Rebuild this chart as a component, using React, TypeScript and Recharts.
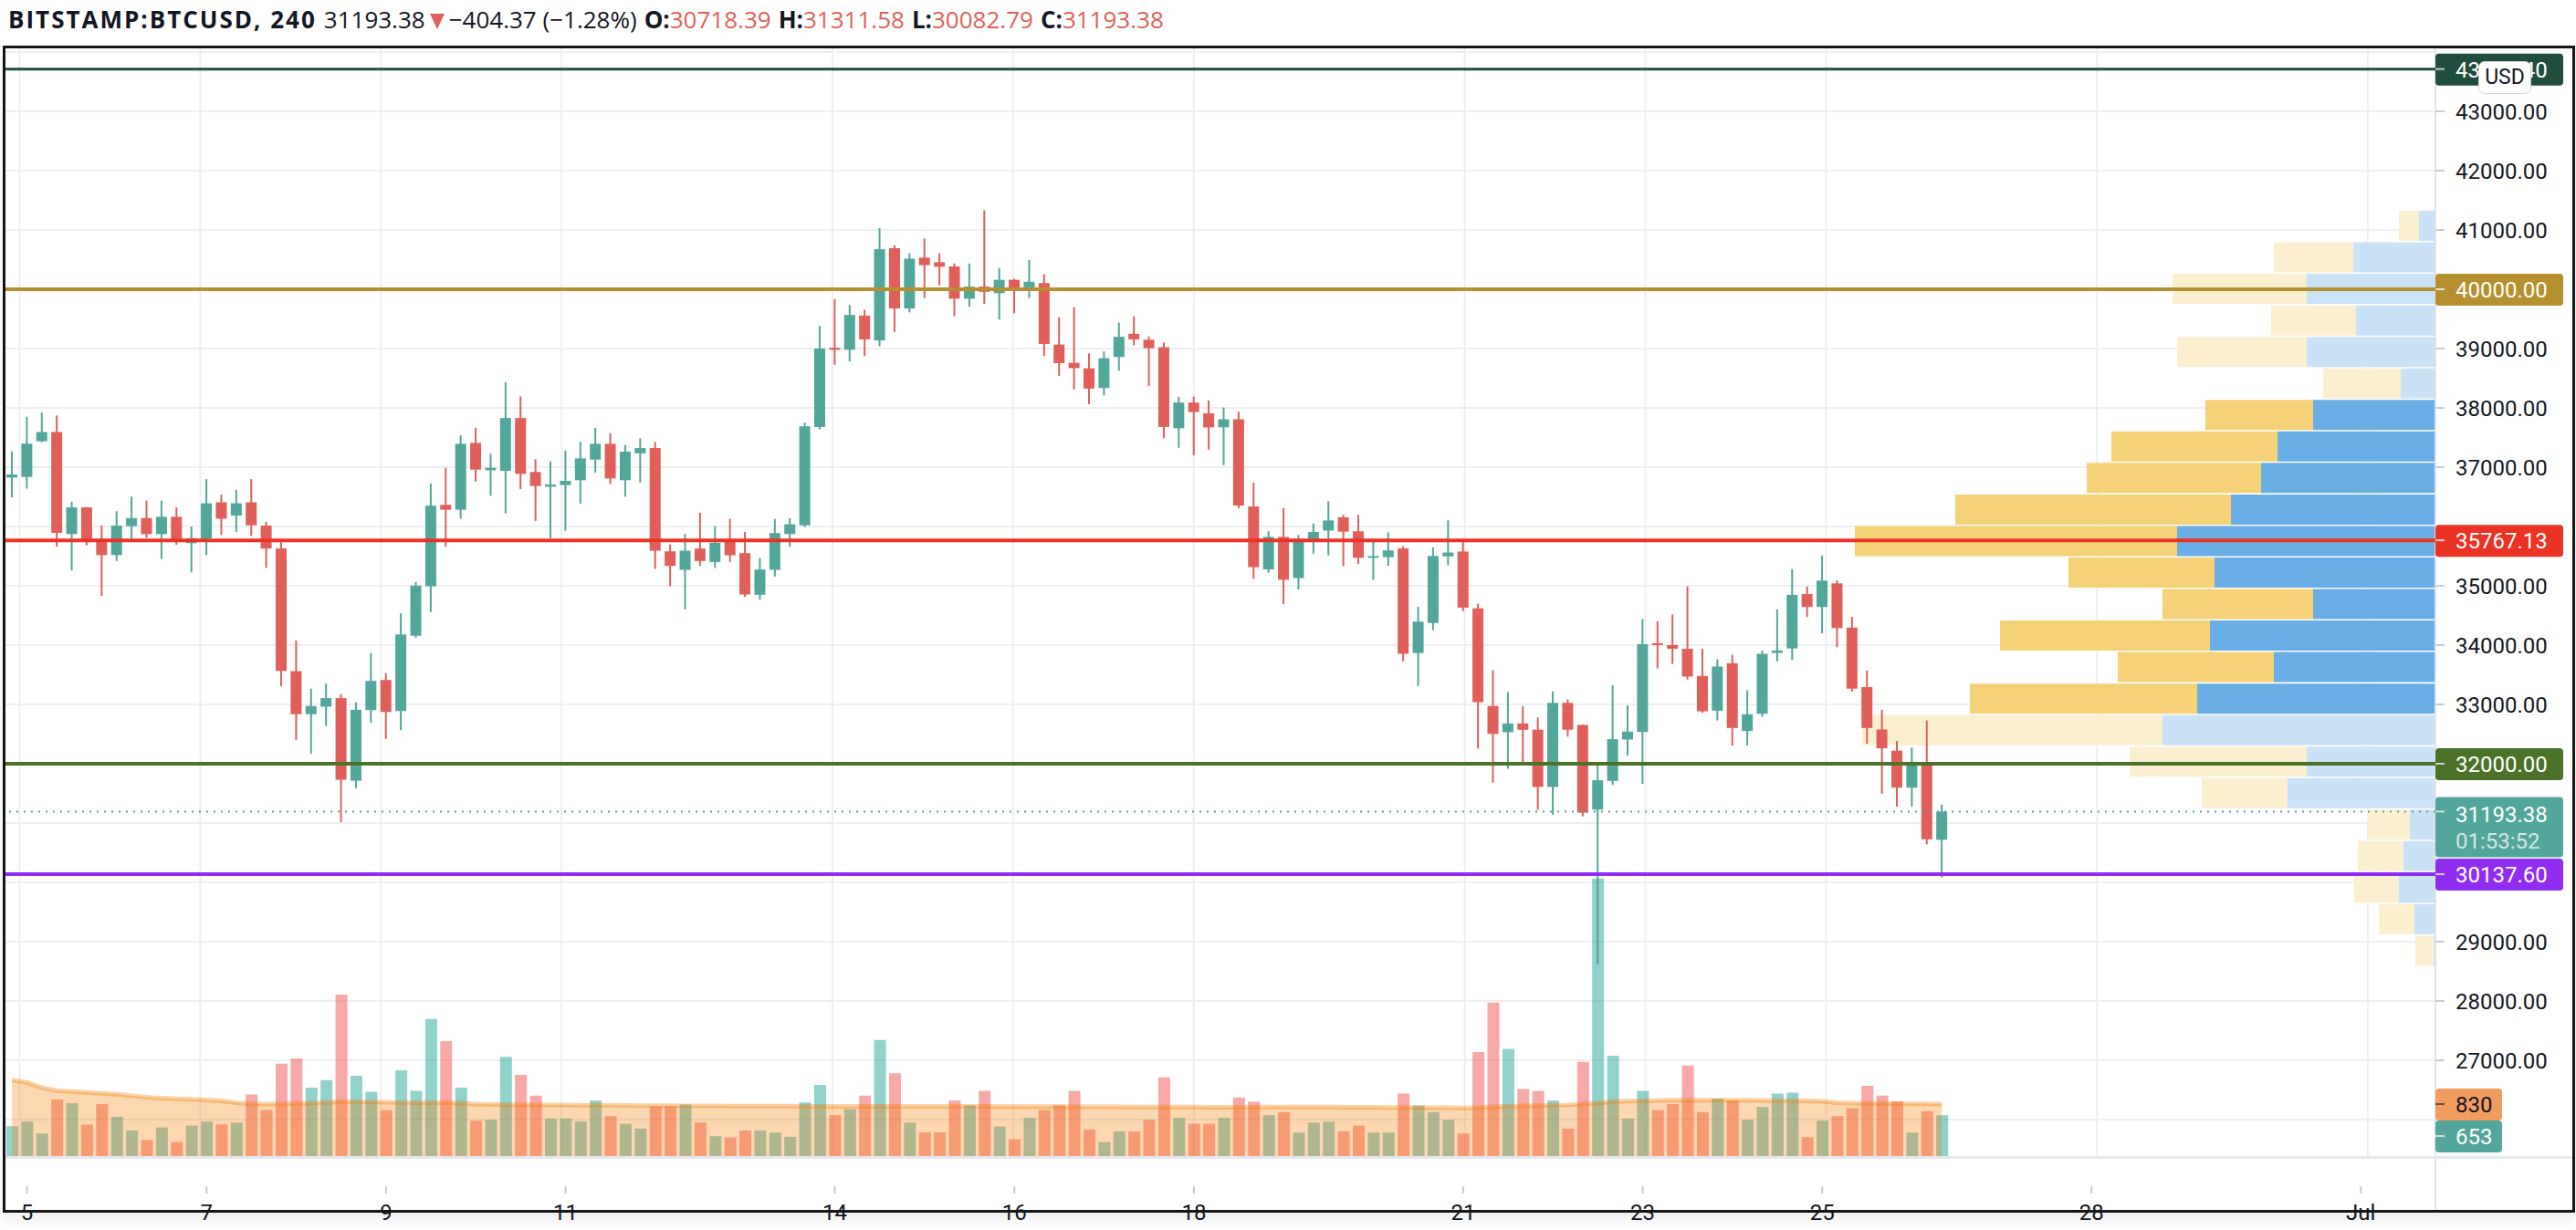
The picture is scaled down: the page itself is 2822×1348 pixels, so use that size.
import React from "react";
import { ComposedChart, Bar, Area, Line, XAxis, YAxis, ReferenceLine, Cell } from "recharts";

// 4h candles, BITSTAMP:BTCUSD, from Jun 4 20:00
const OPEN = [
  36824, 36835, 37438, 37592, 35872, 36322, 35761, 35518, 36005, 36142,
  35872, 36163, 35719, 35793, 36407, 36184, 36407, 36015, 35629, 33561,
  32836, 32963, 33106, 31714, 32905, 33412, 32889, 34158, 34993, 36365,
  36283, 37409, 36948, 36938, 37829, 36918, 36672, 36698, 36780, 37128,
  37394, 36780, 37235, 37322, 35581, 35269, 35628, 35402, 35771, 35551,
  34849, 35269, 35873, 36020, 37678, 39012, 38979, 39555, 39138, 40692,
  39676, 40533, 40456, 40384, 39841, 40044, 39934, 40159, 40027, 40104,
  39067, 38759, 38666, 38336, 38858, 39248, 39149, 39023, 37656, 38089,
  37907, 37672, 37807, 36337, 35278, 35825, 35131, 35772, 35931, 36155,
  35919, 35472, 35484, 35631, 33867, 34373, 35496, 35578, 34620, 32973,
  32532, 32679, 32574, 31609, 33026, 32654, 31226, 31711, 32409, 32537,
  34031, 34000, 33939, 33480, 32894, 33694, 32552, 32843, 33868, 33944,
  34862, 34643, 35041, 34296, 33292, 32578, 32221, 31598, 31991, 30718.39,
];
const HIGH = [
  37264, 37851, 37920, 37872, 36417, 36330, 36015, 36258, 36502, 36438,
  36438, 36322, 35999, 36798, 36539, 36618, 36798, 36079, 35735, 34079,
  33264, 33349, 33174, 33037, 33867, 33529, 34534, 35064, 36723, 36989,
  37537, 37665, 37230, 38433, 38193, 37133, 37097, 37281, 37425, 37665,
  37573, 37373, 37486, 37425, 35699, 35873, 36232, 36006, 36129, 35909,
  35469, 36129, 36140, 37749, 39380, 39835, 39736, 39654, 41032, 40741,
  40604, 40856, 40604, 40434, 40434, 41329, 40357, 40176, 40494, 40253,
  39528, 39698, 38918, 38951, 39440, 39544, 39204, 39100, 38188, 38189,
  38124, 38007, 37936, 36737, 35919, 36307, 35855, 36049, 36425, 36196,
  36196, 35784, 35902, 35666, 34649, 35649, 36102, 35737, 34696, 33579,
  33209, 32973, 32779, 33220, 33085, 32660, 31991, 33322, 32986, 34439,
  34403, 34516, 34990, 33939, 33761, 33837, 33240, 33909, 34602, 35281,
  34990, 35510, 35092, 34475, 33572, 32909, 32384, 32272, 32731, 31311.58,
];
const LOW = [
  36491, 36639, 37422, 35661, 35259, 35682, 34830, 35417, 35751, 35809,
  35454, 35692, 35227, 35518, 35856, 35909, 35840, 35301, 33307, 32402,
  32169, 32635, 31016, 31587, 32693, 32418, 32566, 34122, 34557, 35658,
  36129, 36759, 36518, 36221, 36631, 36093, 35802, 35930, 36385, 36908,
  36718, 36503, 36744, 35285, 34993, 34603, 35336, 35300, 35402, 34813,
  34762, 35156, 35658, 35992, 37639, 38726, 38781, 38875, 39039, 39281,
  39610, 39852, 40066, 39544, 39704, 39753, 39489, 39594, 39852, 38875,
  38540, 38309, 38062, 38210, 38628, 39056, 38370, 37491, 37326, 37201,
  37295, 37036, 36307, 35120, 35220, 34690, 34937, 35543, 35513, 35331,
  35367, 35102, 35337, 33726, 33314, 34255, 35349, 34573, 32256, 31680,
  31915, 32033, 31221, 31139, 32456, 31114, 28615, 31644, 32134, 31660,
  33608, 33684, 33419, 32858, 32731, 32307, 32307, 32792, 33725, 33751,
  34475, 34199, 33965, 33215, 32338, 31496, 31277, 31277, 30640, 30082.79,
];
const CLOSE = [
  36877, 37396, 37592, 35893, 36322, 35751, 35518, 36015, 36142, 35872,
  36163, 35751, 35804, 36391, 36131, 36391, 36020, 35629, 33566, 32836,
  32973, 33106, 31730, 32910, 33397, 32873, 34179, 35003, 36349, 36283,
  37394, 36959, 36989, 37829, 36887, 36682, 36708, 36769, 37148, 37394,
  36810, 37261, 37322, 35592, 35336, 35592, 35418, 35725, 35515, 34854,
  35274, 35889, 36037, 37689, 39001, 38979, 39566, 39155, 40675, 39676,
  40516, 40406, 40379, 39841, 40044, 39956, 40159, 40027, 40126, 39078,
  38754, 38671, 38325, 38836, 39198, 39155, 39006, 37678, 38090, 37930,
  37672, 37807, 36354, 35314, 35825, 35102, 35784, 35907, 36102, 35913,
  35472, 35502, 35596, 33855, 34396, 35502, 35561, 34632, 33038, 32503,
  32679, 32574, 31609, 33026, 32574, 31175, 31721, 32414, 32542, 34016,
  34000, 33939, 33470, 32884, 33638, 32603, 32833, 33853, 33909, 34847,
  34643, 35087, 34286, 33266, 32603, 32261, 31598, 31991, 30726, 31193.38,
];
const VOLUME = [
  477, 550, 360, 901, 843, 502, 828, 628, 409, 258,
  458, 224, 487, 550, 506, 536, 984, 735, 1476, 1558,
  1091, 1213, 2576, 1281, 1028, 735, 1368, 1042, 2187, 1836,
  1091, 565, 580, 1583, 1295, 964, 599, 599, 550, 886,
  638, 516, 438, 794, 794, 823, 536, 317, 297, 409,
  409, 375, 307, 857, 1135, 653, 750, 964, 1851, 1320,
  536, 380, 380, 886, 808, 1042, 472, 268, 609, 735,
  808, 1042, 424, 224, 394, 394, 580, 1256, 609, 516,
  516, 609, 935, 867, 653, 701, 375, 536, 550, 394,
  487, 375, 375, 998, 808, 701, 580, 360, 1661, 2450,
  1709, 1071, 1042, 886, 438, 1505, 4430, 1602, 599, 1042,
  735, 828, 1446, 701, 916, 886, 580, 784, 998, 1013,
  302, 565, 638, 765, 1120, 964, 872, 375, 716, 653,
];
const VOLUME_MA = [
  1210, 1175, 1090, 1045, 1030, 1015, 1000, 985, 960, 940,
  925, 912, 905, 895, 880, 850, 835, 830, 835, 840,
  845, 855, 865, 865, 862, 860, 855, 852, 852, 850,
  845, 830, 825, 820, 818, 818, 815, 815, 813, 813,
  810, 808, 805, 804, 803, 802, 800, 800, 798, 798,
  797, 797, 796, 795, 795, 794, 793, 793, 792, 792,
  792, 793, 794, 794, 793, 792, 791, 790, 790, 789,
  789, 788, 787, 786, 785, 784, 783, 782, 781, 781,
  780, 780, 780, 780, 781, 782, 783, 782, 781, 780,
  779, 778, 776, 775, 773, 771, 770, 769, 770, 785,
  795, 800, 805, 810, 815, 835, 845, 870, 878, 882,
  888, 890, 892, 893, 892, 891, 890, 888, 886, 884,
  880, 872, 852, 845, 842, 840, 838, 835, 832, 830,
];

// time axis: bar index -> label
const DAY_INDEX = [1, 13, 25, 37, 55, 67, 79, 97, 109, 121, 139, 157];
const DAY_TEXT = ["5", "7", "9", "11", "14", "16", "18", "21", "23", "25", "28", "Jul"];
const SLOTS = 162;

const PRICE_TICKS = [27000, 28000, 29000, 33000, 34000, 35000, 37000, 38000, 39000, 41000, 42000, 43000];
const GRID_PRICES = [26000, 27000, 28000, 29000, 30000, 31000, 32000, 33000, 34000, 35000, 36000, 37000, 38000, 39000, 40000, 41000, 42000, 43000, 44000];

// horizontal levels drawn on the chart
const LEVEL_PRICES = [43712.4, 40000, 35767.13, 32000, 30137.6];
const LEVEL_COLORS = ["#204e3e", "#b68f2f", "#ea3324", "#4a7229", "#8f2df0"];
const LEVEL_WIDTHS = [3, 4, 4, 4, 4];
const COUNTDOWN = "01:53:52";
const PREV_CLOSE = 31597.75;

// visible range volume profile, rows top -> bottom
const PROFILE_UP = [18, 90, 141, 87, 141, 38, 134, 173, 191, 224, 283, 242, 134, 247, 177, 261, 299, 141, 162, 28, 35, 40, 23, 2];
const PROFILE_DOWN = [22, 87, 147, 93, 142, 85, 118, 182, 191, 302, 353, 160, 165, 230, 171, 249, 329, 194, 94, 46, 50, 49, 39, 20];
const PROFILE_VALUE_AREA = [0, 0, 0, 0, 0, 0, 1, 1, 1, 1, 1, 1, 1, 1, 1, 1, 0, 0, 0, 0, 0, 0, 0, 0];

const W = 2822;
const H = 1348;
const FONT = "Roboto, 'Noto Sans', sans-serif";
const HEAD_FONT = "'Open Sans', Roboto, sans-serif";
const UP = "#52a69a";
const DOWN = "#e05f59";
const TEXT = "#131722";
const GRID = "#eeeff2";
const PRICE_DOMAIN = [25385, 44092];
const VOL_DOMAIN = [0, 17705];

const rows = Array.from({ length: SLOTS }, (_, i) =>
  i < OPEN.length
    ? { i, o: OPEN[i], h: HIGH[i], l: LOW[i], c: CLOSE[i], hl: [LOW[i], HIGH[i]], vol: VOLUME[i], ma: VOLUME_MA[i] }
    : { i }
);

const profileRows = PROFILE_UP.map((u, r) => ({ row: r, up: u, down: PROFILE_DOWN[r] }));

const dayLabel: Record<number, string> = {};
DAY_INDEX.forEach((d, k) => (dayLabel[d] = DAY_TEXT[k]));

function Candle(props: any) {
  const { x, width, payload } = props;
  let { y, height } = props;
  if (!payload || payload.o == null || y == null || isNaN(y)) return <g />;
  if (height < 0) {
    y += height;
    height = -height;
  }
  const { o, h, l, c } = payload;
  const color = c >= o ? UP : DOWN;
  const span = h - l || 1;
  const yOf = (p: number) => y + ((h - p) / span) * height;
  const top = yOf(Math.max(o, c));
  const bot = yOf(Math.min(o, c));
  const cx = x + width / 2;
  return (
    <g>
      <line x1={cx} x2={cx} y1={y} y2={y + height} stroke={color} strokeWidth={2} />
      <rect x={x} y={top} width={width} height={Math.max(bot - top, 2)} fill={color} />
    </g>
  );
}

function TimeTick(props: any) {
  const { x, y, payload } = props;
  const label = dayLabel[payload.value];
  if (label === undefined) return <g />;
  return (
    <g>
      <line x1={x} x2={x} y1={y + 3} y2={y + 11} stroke="#c8cbd1" strokeWidth={2} />
      <text x={x} y={y + 40} textAnchor="middle" fontSize={24} fill={TEXT} fontFamily={FONT}>
        {label}
      </text>
    </g>
  );
}

const tagLabel = (bg: string, fg: string, text: string, sub?: string) => (props: any) => {
  const vb = props.viewBox || {};
  const x = vb.x + vb.width;
  const y = vb.y;
  const top = sub ? y - 16 : y - 17;
  const hgt = sub ? 66 : 35;
  return (
    <g>
      <rect x={x} y={top} width={140} height={hgt} rx={4} fill={bg} />
      <line x1={x} x2={x + 10} y1={y} y2={y} stroke={fg} strokeOpacity={0.7} strokeWidth={2} />
      <text x={x + 22} y={sub ? y + 4 : y + 1} dominantBaseline="central" fontSize={24} fill={fg} fontFamily={FONT}>
        {text}
      </text>
      {sub && (
        <text x={x + 22} y={y + 33} dominantBaseline="central" fontSize={24} fill={fg} fillOpacity={0.75} fontFamily={FONT}>
          {sub}
        </text>
      )}
    </g>
  );
};

const volumeTags = (props: any) => {
  const vb = props.viewBox || {};
  const x = vb.x + vb.width;
  const y = vb.y;
  const last = VOLUME.length - 1;
  return (
    <g fontFamily={FONT} fontSize={24}>
      <rect x={x} y={y - 17} width={73} height={35} rx={4} fill="#f29c5f" />
      <line x1={x} x2={x + 10} y1={y} y2={y} stroke={TEXT} strokeOpacity={0.6} strokeWidth={2} />
      <text x={x + 22} y={y + 1} dominantBaseline="central" fill={TEXT}>{VOLUME_MA[last]}</text>
      <rect x={x} y={y + 18} width={73} height={35} rx={4} fill="#53a69b" />
      <line x1={x} x2={x + 10} y1={y + 35} y2={y + 35} stroke="#fff" strokeOpacity={0.7} strokeWidth={2} />
      <text x={x + 22} y={y + 36} dominantBaseline="central" fill="#fff">{VOLUME[last]}</text>
    </g>
  );
};

function GridLayer() {
  return (
    <ComposedChart width={W} height={H} data={rows} margin={{ top: 51, left: 5, right: 154, bottom: 81 }}>
      <XAxis xAxisId="main" dataKey="i" type="category" hide padding={{ left: 0, right: 8 }} />
      <XAxis xAxisId="lx" dataKey="i" type="category" hide />
      <YAxis yAxisId="price" type="number" domain={PRICE_DOMAIN} allowDataOverflow hide />
      <Line xAxisId="lx" yAxisId="price" dataKey="c" stroke="none" dot={false} isAnimationActive={false} />
      {DAY_INDEX.map((d) => (
        <ReferenceLine key={"v" + d} xAxisId="main" yAxisId="price" x={d} stroke={GRID} strokeWidth={2} />
      ))}
      {GRID_PRICES.map((p) => (
        <ReferenceLine key={"h" + p} xAxisId="lx" yAxisId="price" y={p} stroke={GRID} strokeWidth={2} />
      ))}
    </ComposedChart>
  );
}

function ProfileLayer() {
  return (
    <ComposedChart
      layout="vertical"
      width={W}
      height={H}
      data={profileRows}
      margin={{ top: 230, right: 154, bottom: 289, left: 5 }}
      barCategoryGap={1}
    >
      <XAxis type="number" domain={[0, 2663]} reversed allowDataOverflow hide />
      <YAxis type="category" dataKey="row" hide />
      <Bar dataKey="up" stackId="vp" isAnimationActive={false}>
        {profileRows.map((r) => (
          <Cell key={r.row} fill={PROFILE_VALUE_AREA[r.row] ? "#6badE5" : "#cae2f5"} />
        ))}
      </Bar>
      <Bar dataKey="down" stackId="vp" isAnimationActive={false}>
        {profileRows.map((r) => (
          <Cell key={r.row} fill={PROFILE_VALUE_AREA[r.row] ? "#f5d277" : "#fcefd0"} />
        ))}
      </Bar>
    </ComposedChart>
  );
}

function MainLayer() {
  const last = CLOSE.length - 1;
  return (
    <ComposedChart width={W} height={H} data={rows} margin={{ top: 51, left: 5, right: 0, bottom: 0 }}>
      <XAxis
        xAxisId="main"
        dataKey="i"
        type="category"
        interval={0}
        height={81}
        padding={{ left: 0, right: 8 }}
        tickLine={false}
        tickSize={0}
        tickMargin={0}
        axisLine={false}
        tick={<TimeTick />}
      />
      <XAxis xAxisId="vx" dataKey="i" type="category" hide padding={{ left: 0, right: 8 }} />
      <XAxis xAxisId="lx" dataKey="i" type="category" hide />
      <YAxis
        yAxisId="price"
        orientation="right"
        type="number"
        width={154}
        domain={PRICE_DOMAIN}
        allowDataOverflow
        ticks={PRICE_TICKS}
        tickFormatter={(v: number) => v.toFixed(2)}
        tick={{ fontSize: 24, fill: TEXT, fontFamily: FONT }}
        tickSize={10}
        tickMargin={12}
        tickLine={{ stroke: "#c8cbd1", strokeWidth: 2 }}
        axisLine={false}
      />
      <YAxis yAxisId="vol" type="number" domain={VOL_DOMAIN} allowDataOverflow hide />

      <Bar xAxisId="vx" yAxisId="vol" dataKey="vol" barSize={13} isAnimationActive={false}>
        {rows.map((r: any) => (
          <Cell key={r.i} fill={r.c >= r.o ? "rgba(38,166,154,0.5)" : "rgba(239,83,80,0.5)"} />
        ))}
      </Bar>
      <Area
        xAxisId="vx"
        yAxisId="vol"
        dataKey="ma"
        type="linear"
        fill="rgba(245,124,0,0.3)"
        fillOpacity={1}
        stroke="rgba(245,124,0,0.35)"
        strokeWidth={5}
        dot={false}
        activeDot={false}
        isAnimationActive={false}
        zIndex={350}
      />
      <Bar xAxisId="main" yAxisId="price" dataKey="hl" barSize={12} shape={<Candle />} isAnimationActive={false} zIndex={360} />

      <ReferenceLine
        xAxisId="lx"
        yAxisId="price"
        y={CLOSE[last]}
        stroke={UP}
        strokeWidth={2}
        strokeDasharray="2 6"
        zIndex={600}
        label={tagLabel("#53a69b", "#ffffff", CLOSE[last].toFixed(2), COUNTDOWN)}
      />
      {LEVEL_PRICES.map((p, k) => (
        <ReferenceLine
          key={p}
          xAxisId="lx"
          yAxisId="price"
          y={p}
          stroke={LEVEL_COLORS[k]}
          strokeWidth={LEVEL_WIDTHS[k]}
          zIndex={600}
          label={tagLabel(LEVEL_COLORS[k], "#ffffff", p.toFixed(2))}
        />
      ))}
      <ReferenceLine xAxisId="lx" yAxisId="vol" y={VOLUME_MA[last]} stroke="none" zIndex={600} label={volumeTags} />
    </ComposedChart>
  );
}

function Header() {
  const last = CLOSE.length - 1;
  const chg = CLOSE[last] - PREV_CLOSE;
  const pct = (chg / PREV_CLOSE) * 100;
  const red = { color: DOWN };
  const gap = { marginLeft: 8 };
  return (
    <div
      style={{
        position: "absolute",
        left: 9,
        top: 4,
        fontFamily: HEAD_FONT,
        fontSize: 26,
        lineHeight: "34px",
        color: TEXT,
        whiteSpace: "nowrap",
        letterSpacing: 0,
      }}
    >
      <b style={{ letterSpacing: 2 }}>BITSTAMP:BTCUSD, 240</b>
      <span style={{ marginLeft: 8 }}>{CLOSE[last].toFixed(2)}</span>
      <svg width={16} height={18} viewBox="0 0 16 18" style={{ margin: "0 5px", verticalAlign: "-1px" }}>
        <path d="M0 1 L16 1 L8 18 Z" fill={DOWN} />
      </svg>
      <span>
        −{Math.abs(chg).toFixed(2)} (−{Math.abs(pct).toFixed(2)}%)
      </span>
      <b style={gap}>O:</b>
      <span style={red}>{OPEN[last].toFixed(2)}</span>
      <b style={gap}>H:</b>
      <span style={red}>{HIGH[last].toFixed(2)}</span>
      <b style={gap}>L:</b>
      <span style={red}>{LOW[last].toFixed(2)}</span>
      <b style={gap}>C:</b>
      <span style={red}>{CLOSE[last].toFixed(2)}</span>
    </div>
  );
}

export default function App() {
  const layer: React.CSSProperties = { position: "absolute", left: 0, top: 0 };
  return (
    <div style={{ position: "fixed", left: 0, top: 0, width: W, height: H, background: "#fff", overflow: "hidden" }}>
      <Header />
      <div style={layer}>
        <GridLayer />
      </div>
      <div style={layer}>
        <ProfileLayer />
      </div>
      <div style={{ position: "absolute", left: 2667, top: 52, width: 2, height: 1275, background: "#e0e3eb" }} />
      <div style={{ position: "absolute", left: 5, top: 1267, width: 2813, height: 3, background: "#e6e8ee" }} />
      <div style={layer}>
        <MainLayer />
      </div>
      <div
        style={{
          position: "absolute",
          left: 3,
          top: 50,
          width: 2818,
          height: 1279,
          boxSizing: "border-box",
          border: "3px solid #151515",
          boxShadow: "0 8px 14px rgba(0,0,0,0.07)",
          pointerEvents: "none",
        }}
      />
      <div
        style={{
          position: "absolute",
          left: 2715,
          top: 67,
          width: 58,
          height: 36,
          boxSizing: "border-box",
          border: "1px solid #d1d4dc",
          borderRadius: 7,
          background: "#fff",
          fontFamily: FONT,
          fontSize: 23,
          lineHeight: "34px",
          textAlign: "center",
          color: TEXT,
        }}
      >
        USD
      </div>
    </div>
  );
}
